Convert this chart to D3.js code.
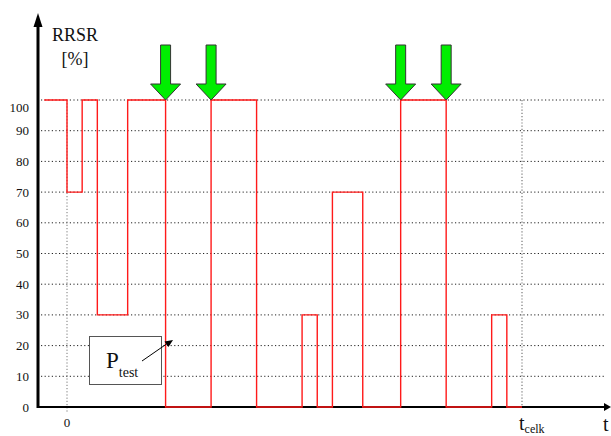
<!DOCTYPE html>
<html lang="cs">
<head>
<meta charset="UTF-8">
<title>RRSR</title>
<script src="https://cdn.jsdelivr.net/npm/d3@7"></script>
<style>
  body { margin: 0; background: #fff; }
</style>
</head>
<body>
<div id="chart"></div>
<script>
    // step signal: time (relative units, t_celk = 30) and RRSR level after each breakpoint
    var stepTimes  = [-1.5, 0, 1, 2, 4, 6.5, 9.5, 12.5, 15.5, 16.5, 17.5, 19.5, 22, 25, 28, 29, 30];
    var stepValues = [100, 70, 100, 30, 100, 0, 100, 0, 30, 0, 70, 0, 100, 0, 30, 0, 0];
    // green arrows mark the start/end of the test windows
    var arrowTimes = [6.5, 9.5, 22, 25];
    var yTicks = [0, 10, 20, 30, 40, 50, 60, 70, 80, 90, 100];
    var tCelk = 30;

    var width = 611, height = 436;

    var svg = d3.select("#chart").append("svg")
        .attr("width", width)
        .attr("height", height)
        .attr("font-family", "'Liberation Serif', 'DejaVu Serif', serif")
        .style("font-family", "'Liberation Serif', 'DejaVu Serif', serif");

    var x = d3.scaleLinear().domain([0, tCelk]).range([67, 522]);
    var y = d3.scaleLinear().domain([0, 100]).range([407, 100]);

    var axisX = 38, axisLeft = 38, axisRight = 611;

    // dotted horizontal grid
    svg.append("g").selectAll("line")
        .data(yTicks.filter(function(d) { return d > 0; }))
        .enter().append("line")
        .attr("x1", 41).attr("x2", 604)
        .attr("y1", function(d) { return y(d); })
        .attr("y2", function(d) { return y(d); })
        .attr("stroke", "#222")
        .attr("stroke-width", 1)
        .attr("stroke-dasharray", "1.2,2.4");

    // vertical dotted lines at 0 and t_celk
    svg.append("line")
        .attr("x1", x(0)).attr("x2", x(0))
        .attr("y1", y(100)).attr("y2", y(0) + 6)
        .attr("stroke", "#777").attr("stroke-width", 1)
        .attr("stroke-dasharray", "1.2,2");
    svg.append("line")
        .attr("x1", x(tCelk)).attr("x2", x(tCelk))
        .attr("y1", y(100)).attr("y2", y(0))
        .attr("stroke", "#777").attr("stroke-width", 1.2)
        .attr("stroke-dasharray", "1.2,2");

    // y tick labels
    svg.append("g").selectAll("text")
        .data(yTicks)
        .enter().append("text")
        .attr("x", 29)
        .attr("y", function(d) { return y(d) + (d === 100 ? 7 : 0); })
        .attr("dy", "0.35em")
        .attr("text-anchor", "end")
        .attr("font-size", 13)
        .attr("fill", "#111")
        .text(function(d) { return d; });

    // x tick at 0
    svg.append("text")
        .attr("x", x(0)).attr("y", 422)
        .attr("dy", "0.35em")
        .attr("text-anchor", "middle")
        .attr("font-size", 13)
        .attr("fill", "#111")
        .text("0");

    // axes with arrowheads
    svg.append("line")
        .attr("x1", axisLeft).attr("x2", axisRight - 6)
        .attr("y1", y(0)).attr("y2", y(0))
        .attr("stroke", "#000").attr("stroke-width", 2);
    svg.append("path")
        .attr("d", "M" + (axisRight - 7) + "," + (y(0) - 4) + "L" + axisRight + "," + y(0) + "L" + (axisRight - 7) + "," + (y(0) + 4) + "Z")
        .attr("fill", "#000");
    svg.append("line")
        .attr("x1", axisX).attr("x2", axisX)
        .attr("y1", y(0) + 1).attr("y2", 26)
        .attr("stroke", "#000").attr("stroke-width", 3);
    svg.append("path")
        .attr("d", "M" + (axisX - 4.5) + ",27L" + axisX + ",13L" + (axisX + 4.5) + ",27Z")
        .attr("fill", "#000");

    // the step signal
    var pts = [];
    stepTimes.forEach(function(t, i) {
        if (i > 0) pts.push([t, stepValues[i - 1]]);
        pts.push([t, stepValues[i]]);
    });
    var line = d3.line()
        .x(function(d) { return x(d[0]); })
        .y(function(d) { return y(d[1]); });
    svg.append("path")
        .datum(pts)
        .attr("d", line)
        .attr("fill", "none")
        .attr("stroke", "#ff1a1a")
        .attr("stroke-width", 1.4);

    // green down arrows
    svg.append("g").selectAll("path")
        .data(arrowTimes)
        .enter().append("path")
        .attr("d", function(t) {
            var cx = x(t), tip = y(100);
            return "M" + (cx - 5) + "," + (tip - 55) +
                "L" + (cx + 5) + "," + (tip - 55) +
                "L" + (cx + 5) + "," + (tip - 16) +
                "L" + (cx + 15) + "," + (tip - 16) +
                "L" + cx + "," + tip +
                "L" + (cx - 15) + "," + (tip - 16) +
                "L" + (cx - 5) + "," + (tip - 16) + "Z";
        })
        .attr("fill", "#00ee00")
        .attr("stroke", "#333")
        .attr("stroke-width", 1);

    // axis titles
    svg.append("text").attr("x", 52).attr("y", 41)
        .attr("font-size", 18).attr("fill", "#111").text("RRSR");
    svg.append("text").attr("x", 75).attr("y", 65)
        .attr("text-anchor", "middle")
        .attr("font-size", 18).attr("fill", "#111").text("[%]");

    var tl = svg.append("text").attr("x", 519).attr("y", 430).attr("font-size", 20).attr("fill", "#111");
    tl.append("tspan").text("t");
    tl.append("tspan").attr("font-size", 12).attr("dy", 3).text("celk");
    svg.append("text").attr("x", 603).attr("y", 431).attr("font-size", 20).attr("fill", "#111").text("t");

    // P_test callout
    svg.append("rect")
        .attr("x", 89.5).attr("y", 336.5)
        .attr("width", 72).attr("height", 48)
        .attr("fill", "#fff")
        .attr("stroke", "#555").attr("stroke-width", 1);
    var pl = svg.append("text").attr("x", 106).attr("y", 368).attr("font-size", 23).attr("fill", "#111");
    pl.append("tspan").text("P");
    pl.append("tspan").attr("font-size", 14).attr("dy", 9).text("test");

    svg.append("line")
        .attr("x1", 142).attr("y1", 361)
        .attr("x2", 168).attr("y2", 343)
        .attr("stroke", "#000").attr("stroke-width", 1);
    svg.append("path")
        .attr("d", "M173,340L164.5,341.5L168.5,347Z")
        .attr("fill", "#000");
</script>
</body>
</html>
